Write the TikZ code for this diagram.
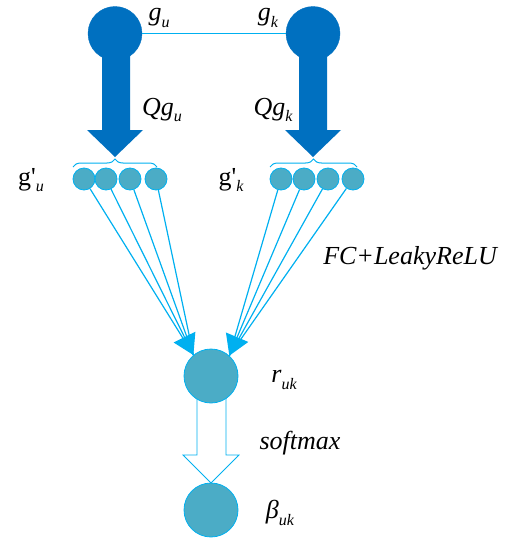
\documentclass[tikz,border=0pt]{standalone}
\usepackage{fontspec}
\setmainfont{Liberation Serif}
\usetikzlibrary{arrows.meta,decorations.pathreplacing,calc}
\definecolor{dblue}{HTML}{0070C0}
\definecolor{lblue}{HTML}{00B0F0}
\definecolor{tealc}{HTML}{4BACC6}
\newcommand\mysub[1]{\raisebox{-0.25em}{\fontsize{16}{18}\selectfont\itshape #1}}
\begin{document}
\begin{tikzpicture}[x=1pt,y=-1pt,
  big/.style={circle,fill=dblue,draw=dblue,minimum size=54pt,inner sep=0pt},
  small/.style={circle,fill=tealc,draw=lblue,line width=0.8pt,minimum size=22pt,inner sep=0pt},
  mid/.style={circle,fill=tealc,draw=lblue,line width=0.8pt,minimum size=54pt,inner sep=0pt},
  lbl/.style={font=\fontsize{26}{28}\selectfont\itshape,inner sep=0pt},
  conn/.style={draw=lblue,line width=1.2pt},
  topline/.style={draw=lblue,line width=1.6pt},
  headarrow/.style={conn,-{Triangle[length=20pt,width=24pt]}},
  bracestyle/.style={draw=lblue,line width=1pt,decorate,decoration={brace,amplitude=8pt}},
  blockarrow/.style={fill=dblue},
  hollowarrow/.style={draw=lblue,fill=white,line width=0.8pt}]
\useasboundingbox (0,0) rectangle (516,538);
% block arrows
\fill[blockarrow] (102,56) -- (130,56) -- (130,130) -- (143,130) -- (115,157) -- (87,130) -- (102,130) -- cycle;
\fill[blockarrow] (299,56) -- (327,56) -- (327,130) -- (341,130) -- (313,157) -- (285,130) -- (299,130) -- cycle;
\draw[hollowarrow] (197,398) -- (226,398) -- (226,455) -- (239,455) -- (211,483) -- (183,455) -- (197,455) -- cycle;
% top nodes
\node[big] (gu) at (115,33.5) {};
\node[big] (gk) at (313,33.5) {};
\draw[topline] (gu) -- (gk);
% small nodes
\node[small] (l1) at (84,179) {};
\node[small] (l2) at (106,179) {};
\node[small] (l3) at (130,179) {};
\node[small] (l4) at (156,179) {};
\node[small] (k1) at (281,179) {};
\node[small] (k2) at (304,179) {};
\node[small] (k3) at (328,179) {};
\node[small] (k4) at (353,179) {};
% braces
\coordinate (b1a) at (73,167);
\coordinate (b1b) at (157,167);
\coordinate (b2a) at (270,167);
\coordinate (b2b) at (357,167);
\draw[bracestyle] (b1a) -- (b1b);
\draw[bracestyle] (b2a) -- (b2b);
% lower nodes
\node[mid] (r) at (211,376) {};
\node[mid] (beta) at (211,510) {};
\coordinate (tl) at (r.130);
\coordinate (tr) at (r.48);
\draw[conn] (l1) -- (tl);
\draw[headarrow] (l2) -- (tl);
\draw[conn] (l3) -- (tl);
\draw[conn] (l4) -- (tl);
\draw[conn] (k1) -- (tr);
\draw[headarrow] (k2) -- (tr);
\draw[conn] (k3) -- (tr);
\draw[conn] (k4) -- (tr);
% labels
\node[lbl] (tgu) at (159,18) {g\mysub{u}};
\node[lbl] (tgk) at (268,18) {g\mysub{k}};
\node[lbl] (tqu) at (162,110) {Qg\mysub{u}};
\node[lbl] (tqk) at (273,110) {Qg\mysub{k}};
\node[lbl] (tpu) at (31,180) {{\upshape g\textquotesingle}\mysub{u}};
\node[lbl] (tpk) at (231,180) {{\upshape g\textquotesingle}\mysub{k}};
\node[lbl] (tfc) at (410,258) {FC+LeakyReLU};
\node[lbl] (tr2) at (284,380) {r\mysub{uk}};
\node[lbl] (tsm) at (300,443) {softmax};
\node[lbl] (tb) at (280,513) {β\mysub{uk}};
\end{tikzpicture}
\end{document}
